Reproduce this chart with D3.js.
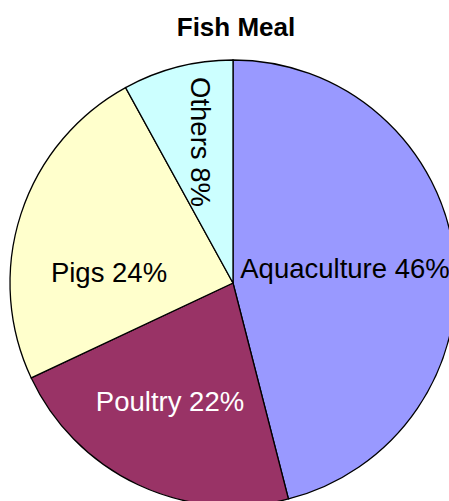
<!DOCTYPE html>
<html>
<head>
<meta charset="utf-8">
<script src="https://cdn.jsdelivr.net/npm/d3@7"></script>
<style>
  body { margin: 0; background: #fff; }
  text { font-family: "Liberation Sans", Arial, sans-serif; }
</style>
</head>
<body>
<div class="viz"></div>
<script>
const categories = ['Aquaculture', 'Poultry', 'Pigs', 'Others'];
const shares = [46, 22, 24, 8];
const colours = ['#9999ff', '#993366', '#ffffcc', '#ccffff'];
const labelColours = ['#000', '#fff', '#000', '#000'];

const width = 449;
const height = 501;
const centre = {x: 233, y: 283};
const radius = 223;

// label anchors relative to the pie centre
const labelOffsets = [[112, -15], [-63, 118], [-124, -11], [-33, -141]];
const labelRotate = [0, 0, 0, 90];

const data = categories.map((c, i) => ({name: c, value: shares[i], i}));

const svg = d3.select('.viz')
  .append('svg')
    .attr('width', width)
    .attr('height', height);

svg.append('text')
  .attr('x', 236)
  .attr('y', 36)
  .attr('text-anchor', 'middle')
  .attr('font-size', 26)
  .attr('font-weight', 'bold')
  .text('Fish Meal');

const pie = d3.pie()
  .sort(null)
  .value(d => d.value);

const arc = d3.arc()
  .innerRadius(0)
  .outerRadius(radius);

const plot = svg.append('g')
  .attr('transform', `translate(${centre.x},${centre.y})`);

plot.selectAll('path.slice')
  .data(pie(data))
  .enter()
  .append('path')
    .attr('class', 'slice')
    .attr('d', arc)
    .attr('fill', d => colours[d.data.i])
    .attr('stroke', '#000')
    .attr('stroke-width', 1.3);

plot.selectAll('text.label')
  .data(pie(data))
  .enter()
  .append('text')
    .attr('class', 'label')
    .attr('text-anchor', 'middle')
    .attr('dominant-baseline', 'central')
    .attr('font-size', 27.5)
    .attr('fill', d => labelColours[d.data.i])
    .attr('transform', d => {
      const o = labelOffsets[d.data.i];
      return `translate(${o[0]},${o[1]}) rotate(${labelRotate[d.data.i]})`;
    })
    .text(d => `${d.data.name} ${d.data.value}%`);
</script>
</body>
</html>
